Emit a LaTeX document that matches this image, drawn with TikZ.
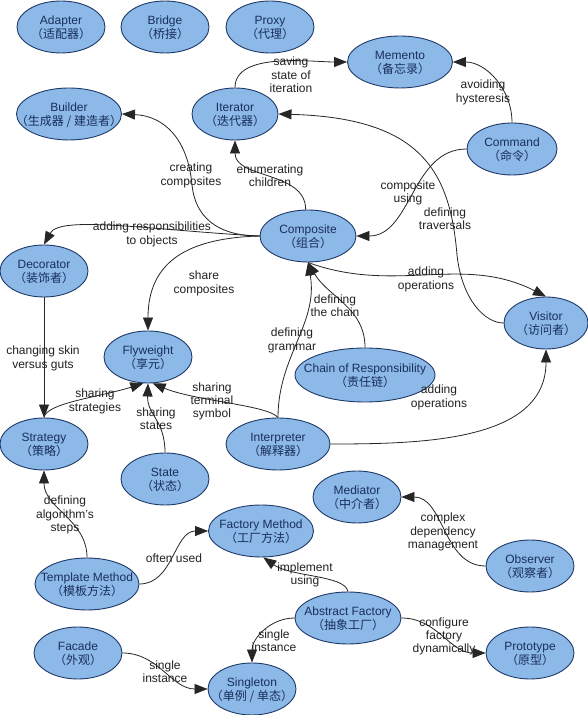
\documentclass[tikz,border=0pt]{standalone}
\usepackage{fontspec}
\setmainfont{Liberation Sans}
\newfontfamily\cjk{Noto Sans CJK SC}
\usetikzlibrary{shapes.geometric,arrows.meta}
\definecolor{efill}{HTML}{8CB9E8}
\definecolor{eline}{HTML}{1F3A68}
\definecolor{etext}{HTML}{1A2F5C}
\definecolor{ltext}{HTML}{222222}
\newcommand\pnm[2]{\makebox[0pt]{\raisebox{-5pt}[0pt][0pt]{\begin{tabular}{@{}c@{}}#1\\{\cjk #2}\end{tabular}}}}
\tikzset{
 pat/.style={ellipse, draw=eline, fill=efill, line width=0.9pt, inner sep=0pt,
   minimum width=88pt, minimum height=52pt, text=etext, font=\fontsize{12}{13}\selectfont},
 lab/.style={align=center, text=ltext, font=\fontsize{12}{13.3}\selectfont, inner sep=0pt},
 rel/.style={draw=black!85, line width=0.8pt, -{Triangle[length=13pt,width=10pt]}},
}
\begin{document}
\begin{tikzpicture}[x=1pt,y=1pt]
\useasboundingbox (0,0) rectangle (588,715);
\fill[white] (0,0) rectangle (588,715);

\node[pat] (adapter) at (61,688) {\pnm{Adapter}{（适配器）}};
\node[pat] (bridge) at (165,688) {\pnm{Bridge}{（桥接）}};
\node[pat] (proxy) at (270,688) {\pnm{Proxy}{（代理）}};
\node[pat, minimum width=105pt] (memento) at (400,653) {\pnm{Memento}{（备忘录）}};
\node[pat, minimum width=105pt] (builder) at (69,601) {\pnm{Builder}{（生成器 / 建造者）}};
\node[pat, minimum width=86pt] (iterator) at (235,601) {\pnm{Iterator}{（迭代器）}};
\node[pat, minimum width=90pt] (command) at (512,566) {\pnm{Command}{（命令）}};
\node[pat, minimum width=96pt] (composite) at (308,479) {\pnm{Composite}{（组合）}};
\node[pat] (decorator) at (44,444) {\pnm{Decorator}{（装饰者）}};
\node[pat] (flyweight) at (148,358) {\pnm{Flyweight}{（享元）}};
\node[pat, minimum width=84pt] (visitor) at (546,392) {\pnm{Visitor}{（访问者）}};
\node[pat, minimum width=140pt, minimum height=54pt] (chain) at (365,340) {\pnm{Chain of Responsibility}{（责任链）}};
\node[pat] (strategy) at (44,271) {\pnm{Strategy}{（策略）}};
\node[pat, minimum width=104pt] (interpreter) at (278,271) {\pnm{Interpreter}{（解释器）}};
\node[pat] (state) at (165,236) {\pnm{State}{（状态）}};
\node[pat] (mediator) at (357,218) {\pnm{Mediator}{（中介者）}};
\node[pat, minimum width=105pt] (factory) at (261,184) {\pnm{Factory Method}{（工厂方法）}};
\node[pat] (observer) at (530,149) {\pnm{Observer}{（观察者）}};
\node[pat, minimum width=104pt] (template) at (87,131) {\pnm{Template Method}{（模板方法）}};
\node[pat, minimum width=106pt] (abstract) at (348,97) {\pnm{Abstract Factory}{（抽象工厂）}};
\node[pat] (facade) at (78,62) {\pnm{Facade}{（外观）}};
\node[pat] (prototype) at (530,62) {\pnm{Prototype}{（原型）}};
\node[pat] (singleton) at (252,26) {\pnm{Singleton}{（单例 / 单态）}};

\draw[rel] (iterator.north) to[out=90,in=180,looseness=0.8] (memento.west);
\draw[rel] (command.north) to[out=90,in=0] (memento.east);
\draw[rel] (command.west) to[out=180,in=0] (composite.east);
\draw[rel] (visitor.west) .. controls (485,392) and (462,415) .. (457,460) .. controls (450,545) and (420,597) .. (iterator.east);
\draw[rel] (composite.95) to[out=90,in=-90] (iterator.south);
\draw[rel] (composite.west) .. controls (215,479) and (195,500) .. (192,530) .. controls (188,575) and (165,599) .. (builder.east);
\draw[rel] (composite.west) .. controls (150,485) and (60,500) .. (decorator.north);
\draw[rel] (composite.west) .. controls (190,477) and (148,455) .. (flyweight.north);
\draw[rel] (composite.south) to[out=-20,in=153] (visitor.north);
\draw[rel] (chain.north) to[out=90,in=-60] (composite.south);
\draw[rel] (interpreter.north) to[out=90,in=-80] (composite.south);
\draw[rel] (interpreter.east) to[out=0,in=-90] (visitor.south);
\draw[rel] (interpreter.north) .. controls (268,310) and (195,314) .. (flyweight.-80);
\draw[rel] (state.north) .. controls (165,295) and (147,300) .. (flyweight.south);
\draw[rel] (strategy.north) .. controls (46,312) and (100,318) .. (flyweight.-100);
\draw[rel] (decorator.south) -- (strategy.north);
\draw[rel] (template.north) to[out=90,in=-90] (strategy.south);
\draw[rel] (template.east) to[out=0,in=180] (factory.west);
\draw[rel] (abstract.north) .. controls (345,140) and (291,138) .. (factory.-85);
\draw[rel] (abstract.west) to[out=180,in=90] (singleton.north);
\draw[rel] (abstract.east) to[out=0,in=180] (prototype.west);
\draw[rel] (facade.east) to[out=0,in=180] (singleton.west);
\draw[rel] (observer.west) to[out=180,in=0] (mediator.east);

\node[lab] (l1) at (291,640) {saving\\state of\\iteration};
\node[lab] (l2) at (483,622.5) {avoiding\\hysteresis};
\node[lab] (l3) at (408,522) {composite\\using};
\node[lab] (l4) at (445,496.5) {defining\\traversals};
\node[lab] (l5) at (191,539.5) {creating\\composites};
\node[lab] (l6) at (270,539.5) {enumerating\\children};
\node[lab] (l7) at (152,480.5) {adding responsibilities\\to objects};
\node[lab] (l8) at (204,431.5) {share\\composites};
\node[lab] (l9) at (426,435.5) {adding\\operations};
\node[lab] (l10) at (335,409.5) {defining\\the chain};
\node[lab] (l11) at (292,374.5) {defining\\grammar};
\node[lab] (l12) at (43,356.5) {changing skin\\versus guts};
\node[lab] (l13) at (95,313.5) {sharing\\strategies};
\node[lab] (l14) at (156,296.5) {sharing\\states};
\node[lab] (l15) at (212,313.5) {sharing\\terminal\\symbol};
\node[lab] (l16) at (439,317.5) {adding\\operations};
\node[lab] (l17) at (65,200) {defining\\algorithm's\\steps};
\node[lab] (l18) at (174,157) {often used};
\node[lab] (l19) at (305,140) {implement\\using};
\node[lab] (l20) at (274,74.5) {single\\instance};
\node[lab] (l21) at (444,78.5) {configure\\factory\\dynamically};
\node[lab] (l22) at (165,43.5) {single\\instance};
\node[lab] (l23) at (443,183) {complex\\dependency\\management};
\end{tikzpicture}
\end{document}
